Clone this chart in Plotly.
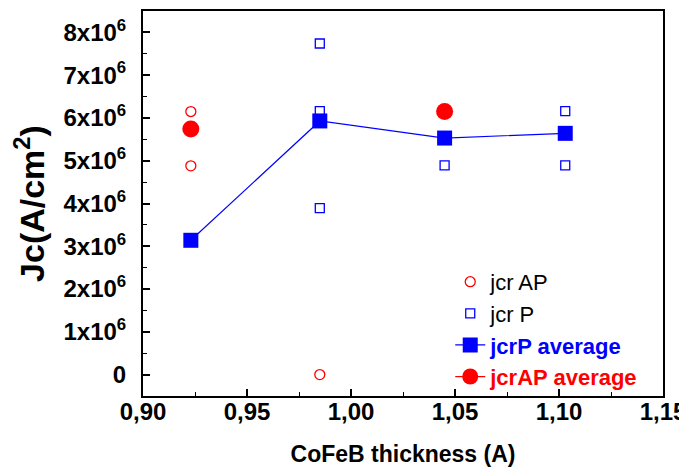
import plotly.graph_objects as go

# Data
ap_x = [0.923, 0.923, 0.985]
ap_y = [6.15e6, 4.88e6, 0.0]

p_x = [0.985, 0.985, 0.985, 1.045, 1.045, 1.103, 1.103]
p_y = [7.74e6, 6.16e6, 3.89e6, 6.16e6, 4.89e6, 6.16e6, 4.89e6]

avg_x = [0.923, 0.985, 1.045, 1.103]
p_avg = [3.14e6, 5.93e6, 5.53e6, 5.64e6]
ap_avg = [5.74e6, None, 6.15e6, None]

x_tickvals = [0.90, 0.95, 1.00, 1.05, 1.10, 1.15]
x_ticktext = ["0,90", "0,95", "1,00", "1,05", "1,10", "1,15"]
y_tickvals = [0, 1e6, 2e6, 3e6, 4e6, 5e6, 6e6, 7e6, 8e6]
y_ticktext = ["0"] + [f"{i}x10<sup>6</sup>" for i in range(1, 9)]

FONT = "Liberation Sans Narrow, Liberation Sans, Arial, sans-serif"

fig = go.Figure()
fig.add_trace(go.Scatter(x=ap_x, y=ap_y, mode="markers", name="jcr AP",
                         marker=dict(symbol="circle-open", size=10, color="red",
                                     line=dict(width=1.3, color="red"))))
fig.add_trace(go.Scatter(x=p_x, y=p_y, mode="markers", name="jcr P",
                         marker=dict(symbol="square-open", size=9, color="blue",
                                     line=dict(width=1.3, color="blue"))))
fig.add_trace(go.Scatter(x=avg_x, y=p_avg, mode="lines+markers",
                         name="<b><span style='color:blue'>jcrP average</span></b>",
                         line=dict(color="blue", width=1.2),
                         marker=dict(symbol="square", size=15, color="blue")))
fig.add_trace(go.Scatter(x=avg_x, y=ap_avg, mode="lines+markers", connectgaps=False,
                         name="<b><span style='color:red'>jcrAP average</span></b>",
                         line=dict(color="red", width=1.2),
                         marker=dict(symbol="circle", size=17, color="red")))

axis_common = dict(showline=True, linecolor="black", linewidth=2, mirror=True,
                   ticks="inside", ticklen=7, tickwidth=1.5, tickcolor="black",
                   showgrid=False, zeroline=False, automargin=False,
                   tickfont=dict(family=FONT, size=24, color="black", weight="bold"))

fig.update_xaxes(range=[0.90, 1.15], tickvals=x_tickvals, ticktext=x_ticktext,
                 minor=dict(ticks="inside", ticklen=4, tickwidth=1.2, tickcolor="black", dtick=0.025),
                 title=dict(text="<b>CoFeB thickness (A)</b>",
                            font=dict(family=FONT, size=23, color="black"), standoff=22),
                 ticklabelstandoff=-7,
                 **axis_common)
fig.update_yaxes(range=[-0.5e6, 8.5e6], tickvals=y_tickvals, ticktext=y_ticktext,
                 minor=dict(ticks="inside", ticklen=4, tickwidth=1.2, tickcolor="black", dtick=0.5e6, tick0=0),
                 title=dict(text="<b>Jc(A/cm<sup>2</sup>)</b>",
                            font=dict(family=FONT, size=34, color="black"), standoff=10),
                 ticklabelstandoff=10,
                 **axis_common)

fig.update_layout(
    width=679, height=462,
    margin=dict(l=135, r=24, t=3, b=74),
    plot_bgcolor="white", paper_bgcolor="white",
    showlegend=True,
    legend=dict(x=0.962, y=-0.005, xanchor="right", yanchor="bottom",
                bgcolor="rgba(0,0,0,0)", tracegroupgap=0,
                font=dict(family=FONT, size=22, color="black")),
)

fig.write_html("out.html")
